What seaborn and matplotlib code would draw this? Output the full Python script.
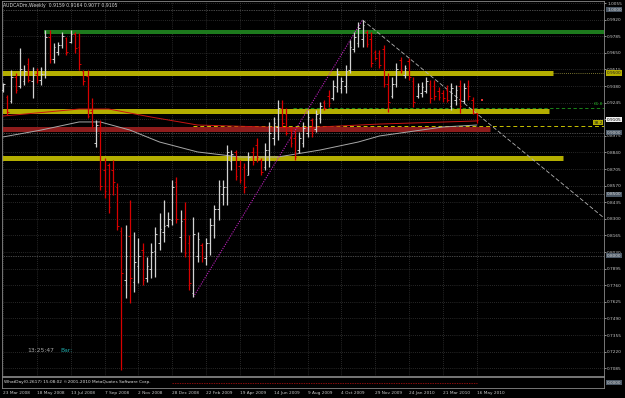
import numpy as np
import pandas as pd
import matplotlib
matplotlib.use("Agg")
import matplotlib.pyplot as plt
import matplotlib.transforms as mtransforms
import seaborn as sns

# ---------------- data ----------------
title_text = "AUDCADm,Weekly  0.9159 0.9164 0.9077 0.9105"
date_labels = ["23 Mar 2008", "18 May 2008", "13 Jul 2008", "7 Sep 2008", "2 Nov 2008",
               "28 Dec 2008", "22 Feb 2009", "19 Apr 2009", "14 Jun 2009", "9 Aug 2009",
               "4 Oct 2009", "29 Nov 2009", "24 Jan 2010", "21 Mar 2010", "16 May 2010"]
label_step = 8  # weeks between time labels

opens = [.9345, .9290, .9260, .9450, .9380, .9420, .9560, .9420, .9480, .9430,
         .9480, .9780, .9600, .9660, .9710, .9770, .9740, .9800, .9700, .9500,
         .9460, .9180, .8920, .9060, .8700, .8740, .8700, .8560, .8200, .7800,
         .8160, .7790, .7920, .8050, .7820, .7890, .8040, .8100, .8190, .8250,
         .8290, .8600, .8150, .8300, .8100, .7700, .8000, .8090, .7980, .8100,
         .8250, .8380, .8500, .8560, .8770, .8840, .8730, .8720, .8660, .8840,
         .8900, .8780, .8720, .8860, .8960, .9050, .9200, .9150, .9020, .8960,
         .8860, .8920, .9000, .9100, .9030, .9120, .9250, .9300, .9280, .9370,
         .9360, .9380, .9510, .9680, .9730, .9760, .9820, .9760, .9660, .9650,
         .9680, .9400, .9300, .9400, .9590, .9470, .9580, .9420, .9300, .9320,
         .9340, .9400, .9380, .9340, .9320, .9350, .9220, .9270, .9380, .9260,
         .9380, .9270, .9159]
highs = [.9405, .9307, .9510, .9486, .9689, .9551, .9608, .9535, .9527, .9535,
         .9836, .9836, .9730, .9738, .9819, .9779, .9836, .9819, .9811, .9510,
         .9510, .9283, .9104, .9104, .8795, .8754, .8779, .8592, .8234, .8250,
         .8453, .8193, .8144, .8104, .7990, .8104, .8234, .8348, .8453, .8356,
         .8616, .8640, .8372, .8437, .8169, .8315, .8193, .8104, .8144, .8307,
         .8413, .8616, .8616, .8901, .8860, .8860, .8779, .8754, .8844, .8884,
         .8957, .8795, .8917, .9088, .9128, .9266, .9266, .9201, .9039, .9022,
         .9006, .9088, .9185, .9120, .9185, .9250, .9266, .9348, .9429, .9527,
         .9453, .9551, .9754, .9819, .9901, .9917, .9836, .9819, .9673, .9673,
         .9714, .9486, .9453, .9567, .9616, .9551, .9608, .9453, .9405, .9413,
         .9453, .9429, .9429, .9372, .9348, .9388, .9405, .9388, .9429, .9405,
         .9429, .9291, .9164]
lows = [.9331, .9144, .9242, .9323, .9364, .9388, .9413, .9283, .9405, .9388,
        .9445, .9567, .9567, .9632, .9689, .9632, .9730, .9649, .9510, .9388,
        .9120, .9039, .8884, .8535, .8470, .8348, .8494, .8209, .7071, .7657,
        .7616, .7705, .7779, .7762, .7787, .7819, .7827, .8047, .8112, .8234,
        .8250, .8266, .8031, .7990, .7722, .7665, .7949, .7949, .7925, .8006,
        .8144, .8291, .8413, .8413, .8697, .8616, .8592, .8510, .8657, .8738,
        .8762, .8657, .8697, .8722, .8901, .8941, .9047, .8982, .8884, .8779,
        .8836, .8884, .8966, .8966, .9006, .9079, .9185, .9209, .9266, .9331,
        .9323, .9323, .9486, .9657, .9697, .9697, .9697, .9535, .9592, .9527,
        .9372, .9169, .9283, .9372, .9486, .9445, .9429, .9209, .9283, .9291,
        .9323, .9242, .9266, .9266, .9250, .9250, .9185, .9226, .9161, .9242,
        .9266, .9155, .9077]
closes = [.9395, .9170, .9450, .9350, .9520, .9500, .9430, .9470, .9430, .9480,
          .9780, .9600, .9700, .9710, .9790, .9660, .9800, .9690, .9560, .9420,
          .9140, .9060, .9060, .8570, .8530, .8400, .8600, .8240, .7860, .8000,
          .7820, .7950, .8000, .7800, .7920, .8030, .8180, .8220, .8240, .8300,
          .8560, .8300, .8280, .8020, .7780, .8180, .8140, .7990, .8100, .8250,
          .8380, .8570, .8560, .8840, .8830, .8650, .8620, .8560, .8800, .8760,
          .8800, .8680, .8860, .9000, .9080, .9200, .9080, .9000, .8920, .8800,
          .8960, .9040, .9130, .9000, .9150, .9220, .9200, .9240, .9380, .9480,
          .9420, .9500, .9700, .9780, .9850, .9880, .9720, .9570, .9610, .9550,
          .9400, .9250, .9400, .9520, .9510, .9530, .9450, .9250, .9380, .9370,
          .9420, .9280, .9300, .9290, .9280, .9270, .9360, .9350, .9220, .9360,
          .9300, .9159, .9105]

# slow moving average (grey) and red indicator line, read at some bars
ma_bars = [0, 9, 18, 23, 30, 37, 46, 56, 65, 75, 84, 89, 104, 112]
ma_vals = [.8966, .9022, .9088, .9088, .9022, .8925, .8844, .8803, .8803, .8860,
           .8925, .8974, .9047, .9063]
red_bars = [0, 18, 25, 35, 46, 70, 89, 112]
red_vals = [.9136, .9193, .9193, .9128, .9063, .9039, .9071, .9096]

# price axis labels
y_ticks = [1.0055, 0.9920, 0.9785, 0.9650, 0.9515, 0.9380, 0.9245, 0.9110, 0.8975,
           0.8840, 0.8705, 0.8570, 0.8435, 0.8300, 0.8165, 0.8030, 0.7895, 0.7760,
           0.7625, 0.7490, 0.7355, 0.7220, 0.7085]

# drawn objects (levels, start/end bar)
green_level, green_from = 0.9819, 9.7
yellow_levels = [0.9486, 0.9181, 0.8791]
yellow_ends = [130.0, 129.1, 132.4]
red_band_level, red_band_end = 0.9031, 115.1
fib618_level, fib618_from = 0.9205, 68.6
fib382_level, fib382_from = 0.9055, 44.9
round_levels = [1.0000, 0.9000, 0.8500, 0.8000]
round_labels = ["1.0000", "0.9000", "0.8500", "0.8000"]
current_price = 0.9105
down_trend_x, down_trend_y = [85, 142.1], [0.9917, 0.8307]
up_trend_x, up_trend_y = [45, 85], [0.7665, 0.9917]

# ---------------- figure ----------------
sns.set_theme(style="dark")
plt.rcParams["font.family"] = ["DejaVu Sans"]

W, H = 625, 398
fig = plt.figure(figsize=(W / 100, H / 100), dpi=100, facecolor="black")

def rect(x0, y0, x1, y1):
    return [x0 / W, 1 - y1 / H, (x1 - x0) / W, (y1 - y0) / H]

ax = fig.add_axes(rect(2, 1, 604, 376))
sx = fig.add_axes(rect(2, 377, 604, 388), sharex=ax)
for a in (ax, sx):
    a.set_facecolor("black")
    for s in a.spines.values():
        s.set_color("#8a8a8a")
        s.set_linewidth(0.6)

bars = np.arange(len(closes))
df = pd.DataFrame({"bar": bars, "open": opens, "high": highs, "low": lows, "close": closes})
up = df["close"] >= df["open"]
cols = np.where(up, "#d2d2d2", "#d80000")

ax.set_xlim(-0.236, 142.08)
ax.set_ylim(0.70225, 1.00713)

# grid
ax.set_yticks(y_ticks)
ax.set_yticklabels([f"{v:.4f}" for v in y_ticks])
xt = list(range(0, len(date_labels) * label_step, label_step))
ax.set_xticks(xt)
ax.grid(True, color="#4d4d4d", linestyle=(0, (1, 2)), linewidth=0.5)

# round-number dotted lines
for lv in round_levels:
    ax.axhline(lv, color="#8c8c8c", linestyle=(0, (1, 1.5)), linewidth=0.5, zorder=1)

# bands
ax.hlines(green_level, green_from, 142.08, color="#1d7a1d", linewidth=2.9, zorder=2)
for lv, e in zip(yellow_levels, yellow_ends):
    ax.hlines(lv, -0.236, e, color="#b4ae00", linewidth=3.6, zorder=2)
ax.hlines(yellow_levels[0], yellow_ends[0], 142.08, color="#a09a40",
          linestyle=(0, (1, 1.5)), linewidth=0.6, zorder=2)
ax.hlines(red_band_level, -0.236, red_band_end, color="#8e1c1c", linewidth=3.6, zorder=2)

# fib dashed lines
ax.hlines(fib618_level, fib618_from, 142.08, color="#1f9a1f", linestyle=(0, (4, 3)),
          linewidth=0.6, zorder=3)
ax.hlines(fib382_level, fib382_from, 142.08, color="#c8c200", linestyle=(0, (4, 3)),
          linewidth=0.7, zorder=3)

# indicator lines via seaborn
sns.lineplot(x=ma_bars, y=ma_vals, ax=ax, color="#a8a8a8", linewidth=0.7, zorder=3)
sns.lineplot(x=red_bars, y=red_vals, ax=ax, color="#c81414", linewidth=0.7, zorder=3)

# trend lines
ax.plot(up_trend_x, up_trend_y, color="#c020c0", linestyle=(0, (1, 1.2)), linewidth=0.8, zorder=4)
ax.plot(down_trend_x, down_trend_y, color="#b4b4b4", linestyle=(0, (5, 2.5)), linewidth=0.6, zorder=4)

# OHLC bars
ax.vlines(df["bar"], df["low"], df["high"], colors=cols, linewidth=0.9, zorder=5)
ax.hlines(df["open"], df["bar"] - 0.38, df["bar"], colors=cols, linewidth=0.7, zorder=5)
ax.hlines(df["close"], df["bar"], df["bar"] + 0.38, colors=cols, linewidth=0.7, zorder=5)
ax.scatter([113.3], [0.9266], marker="s", s=4, color="#e03030", zorder=6, linewidths=0)

# axis styling
ax.yaxis.tick_right()
ax.tick_params(axis="y", labelsize=3.1, colors="#c8c8c8", length=1.5, width=0.5, pad=0.8)
ax.tick_params(axis="x", labelbottom=False, length=0)
ax.set_xlabel("")
ax.set_ylabel("")
sx.set_ylim(0, 1)
sx.set_yticks([])
sx.set_xticks(xt)
sx.set_xticklabels(date_labels, ha="left")
sx.tick_params(axis="x", labelsize=3.1, colors="#c8c8c8", length=0, pad=2.5)
sx.grid(False)

# boxed labels on price scale
bt = mtransforms.blended_transform_factory(ax.transAxes, ax.transData)
for lv, lb in zip(round_levels, round_labels):
    ax.text(1.005, lv, lb, transform=bt, fontsize=3.1, color="#d8d8d8", va="center", ha="left",
            bbox=dict(boxstyle="square,pad=0.15", fc="#4b5866", ec="none"), clip_on=False)
ax.text(1.005, yellow_levels[0], "0.9500", transform=bt, fontsize=3.1, color="#202020",
        va="center", ha="left", bbox=dict(boxstyle="square,pad=0.15", fc="#b4ae00", ec="none"),
        clip_on=False)
ax.text(1.005, current_price, f"{current_price:.4f}", transform=bt, fontsize=3.1, color="#000000",
        va="center", ha="left", bbox=dict(boxstyle="square,pad=0.15", fc="#f0f0f0", ec="none"),
        clip_on=False)
ax.text(139.6, fib618_level + 0.0015, "61.8", fontsize=3.1, color="#20b020", va="bottom", ha="left",
        clip_on=False)
ax.text(139.6, fib382_level + 0.0012, "38.2", fontsize=3.1, color="#202020", va="bottom", ha="left",
        bbox=dict(boxstyle="square,pad=0.1", fc="#b4ae00", ec="none"), clip_on=False)

# strip texts
sx.text(0.003, 0.5, "WhatDay(0.2617) 15:08:02 \u00a92001-2010 MetaQuotes Software Corp.",
        transform=sx.transAxes, fontsize=3.1, color="#e0e0e0", va="center", ha="left")
sx.hlines(0.42, 40, 112, colors="#c01010", linestyles=(0, (2, 1.5)), linewidth=0.5)
sx.text(1.005, 0.5, "0.0000", transform=sx.transAxes, fontsize=3.1, color="#d8d8d8",
        va="center", ha="left", bbox=dict(boxstyle="square,pad=0.15", fc="#4b5866", ec="none"),
        clip_on=False)

# title & clock
fig.text(3 / W, 1 - 6 / H, title_text, fontsize=3.3, color="#d8d8d8", va="center", ha="left")
fig.text(27 / W, 1 - 350 / H, "13:25:47", fontsize=4.3, color="#a8a8a8", va="center", ha="left")
fig.text(60 / W, 1 - 350 / H, "Bar:", fontsize=4.3, color="#1fa8a8", va="center", ha="left")

fig.savefig("out.png", dpi=100, facecolor="black")
